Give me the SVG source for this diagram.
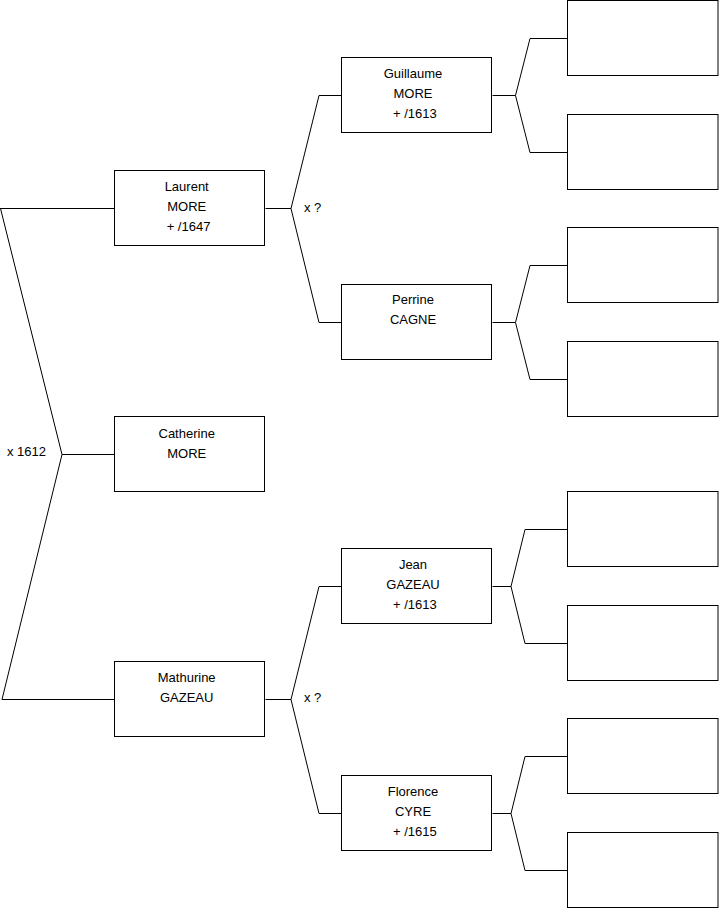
<svg xmlns="http://www.w3.org/2000/svg" width="719" height="908" viewBox="0 0 719 908">
<style>
.box{fill:#fff;stroke:#000;stroke-width:1}
.ln{fill:none;stroke:#000;stroke-width:1}
text{font-family:"Liberation Sans",Arial,sans-serif;font-size:13px;fill:#000;text-anchor:middle}
.lbl{text-anchor:start}
</style>
<rect width="719" height="908" fill="#fff"/>
<g id="connectors">
<path class="ln" d="M0,208.5H114.5M0.5,208.5L62,454.5L2,699.5M62,454.5H114.5M2,699.5H114.5"/>
<path class="ln" d="M265.5,208.5H291L319,95.5H341.5M291,208.5L319,322.5H341.5"/>
<path class="ln" d="M265.5,699.5H291L319,586.5H341.5M291,699.5L319,813.5H341.5"/>
<path class="ln" d="M492.5,95.5H515.5L530,38.5H567.5M515.5,95.5L530,152.5H567.5"/>
<path class="ln" d="M492.5,322.5H515.5L530,265.5H567.5M515.5,322.5L530,379.5H567.5"/>
<path class="ln" d="M492.5,586.5H511L525,529.5H567.5M511,586.5L525,643.5H567.5"/>
<path class="ln" d="M492.5,813.5H511L525,756.5H567.5M511,813.5L525,870.5H567.5"/>
<text class="lbl" x="7" y="456">x 1612</text>
<text class="lbl" x="304" y="212">x ?</text>
<text class="lbl" x="304" y="702">x ?</text>
</g>
<g id="laurent"><rect class="box" x="114.5" y="170.5" width="150" height="75"/><text x="186.7" y="191">Laurent</text><text x="186.7" y="211">MORE</text><text x="188.5" y="231">+ /1647</text></g>
<g id="catherine"><rect class="box" x="114.5" y="416.5" width="150" height="75"/><text x="186.7" y="438">Catherine</text><text x="186.7" y="458">MORE</text></g>
<g id="mathurine"><rect class="box" x="114.5" y="661.5" width="150" height="75"/><text x="186.7" y="682">Mathurine</text><text x="186.7" y="702">GAZEAU</text></g>
<g id="guillaume"><rect class="box" x="341.5" y="57.5" width="150" height="75"/><text x="413" y="78">Guillaume</text><text x="413" y="98">MORE</text><text x="414.8" y="118">+ /1613</text></g>
<g id="perrine"><rect class="box" x="341.5" y="284.5" width="150" height="75"/><text x="413" y="304">Perrine</text><text x="413" y="324">CAGNE</text></g>
<g id="jean"><rect class="box" x="341.5" y="548.5" width="150" height="75"/><text x="413" y="569">Jean</text><text x="413" y="589">GAZEAU</text><text x="414.8" y="609">+ /1613</text></g>
<g id="florence"><rect class="box" x="341.5" y="775.5" width="150" height="75"/><text x="413" y="796">Florence</text><text x="413" y="816">CYRE</text><text x="414.8" y="836">+ /1615</text></g>
<g id="p1"><rect class="box" x="567.5" y="0.5" width="150.5" height="75"/></g>
<g id="p2"><rect class="box" x="567.5" y="114.5" width="150.5" height="75"/></g>
<g id="p3"><rect class="box" x="567.5" y="227.5" width="150.5" height="75"/></g>
<g id="p4"><rect class="box" x="567.5" y="341.5" width="150.5" height="75"/></g>
<g id="p5"><rect class="box" x="567.5" y="491.5" width="150.5" height="75"/></g>
<g id="p6"><rect class="box" x="567.5" y="605.5" width="150.5" height="75"/></g>
<g id="p7"><rect class="box" x="567.5" y="718.5" width="150.5" height="75"/></g>
<g id="p8"><rect class="box" x="567.5" y="832.5" width="150.5" height="75"/></g>
</svg>
